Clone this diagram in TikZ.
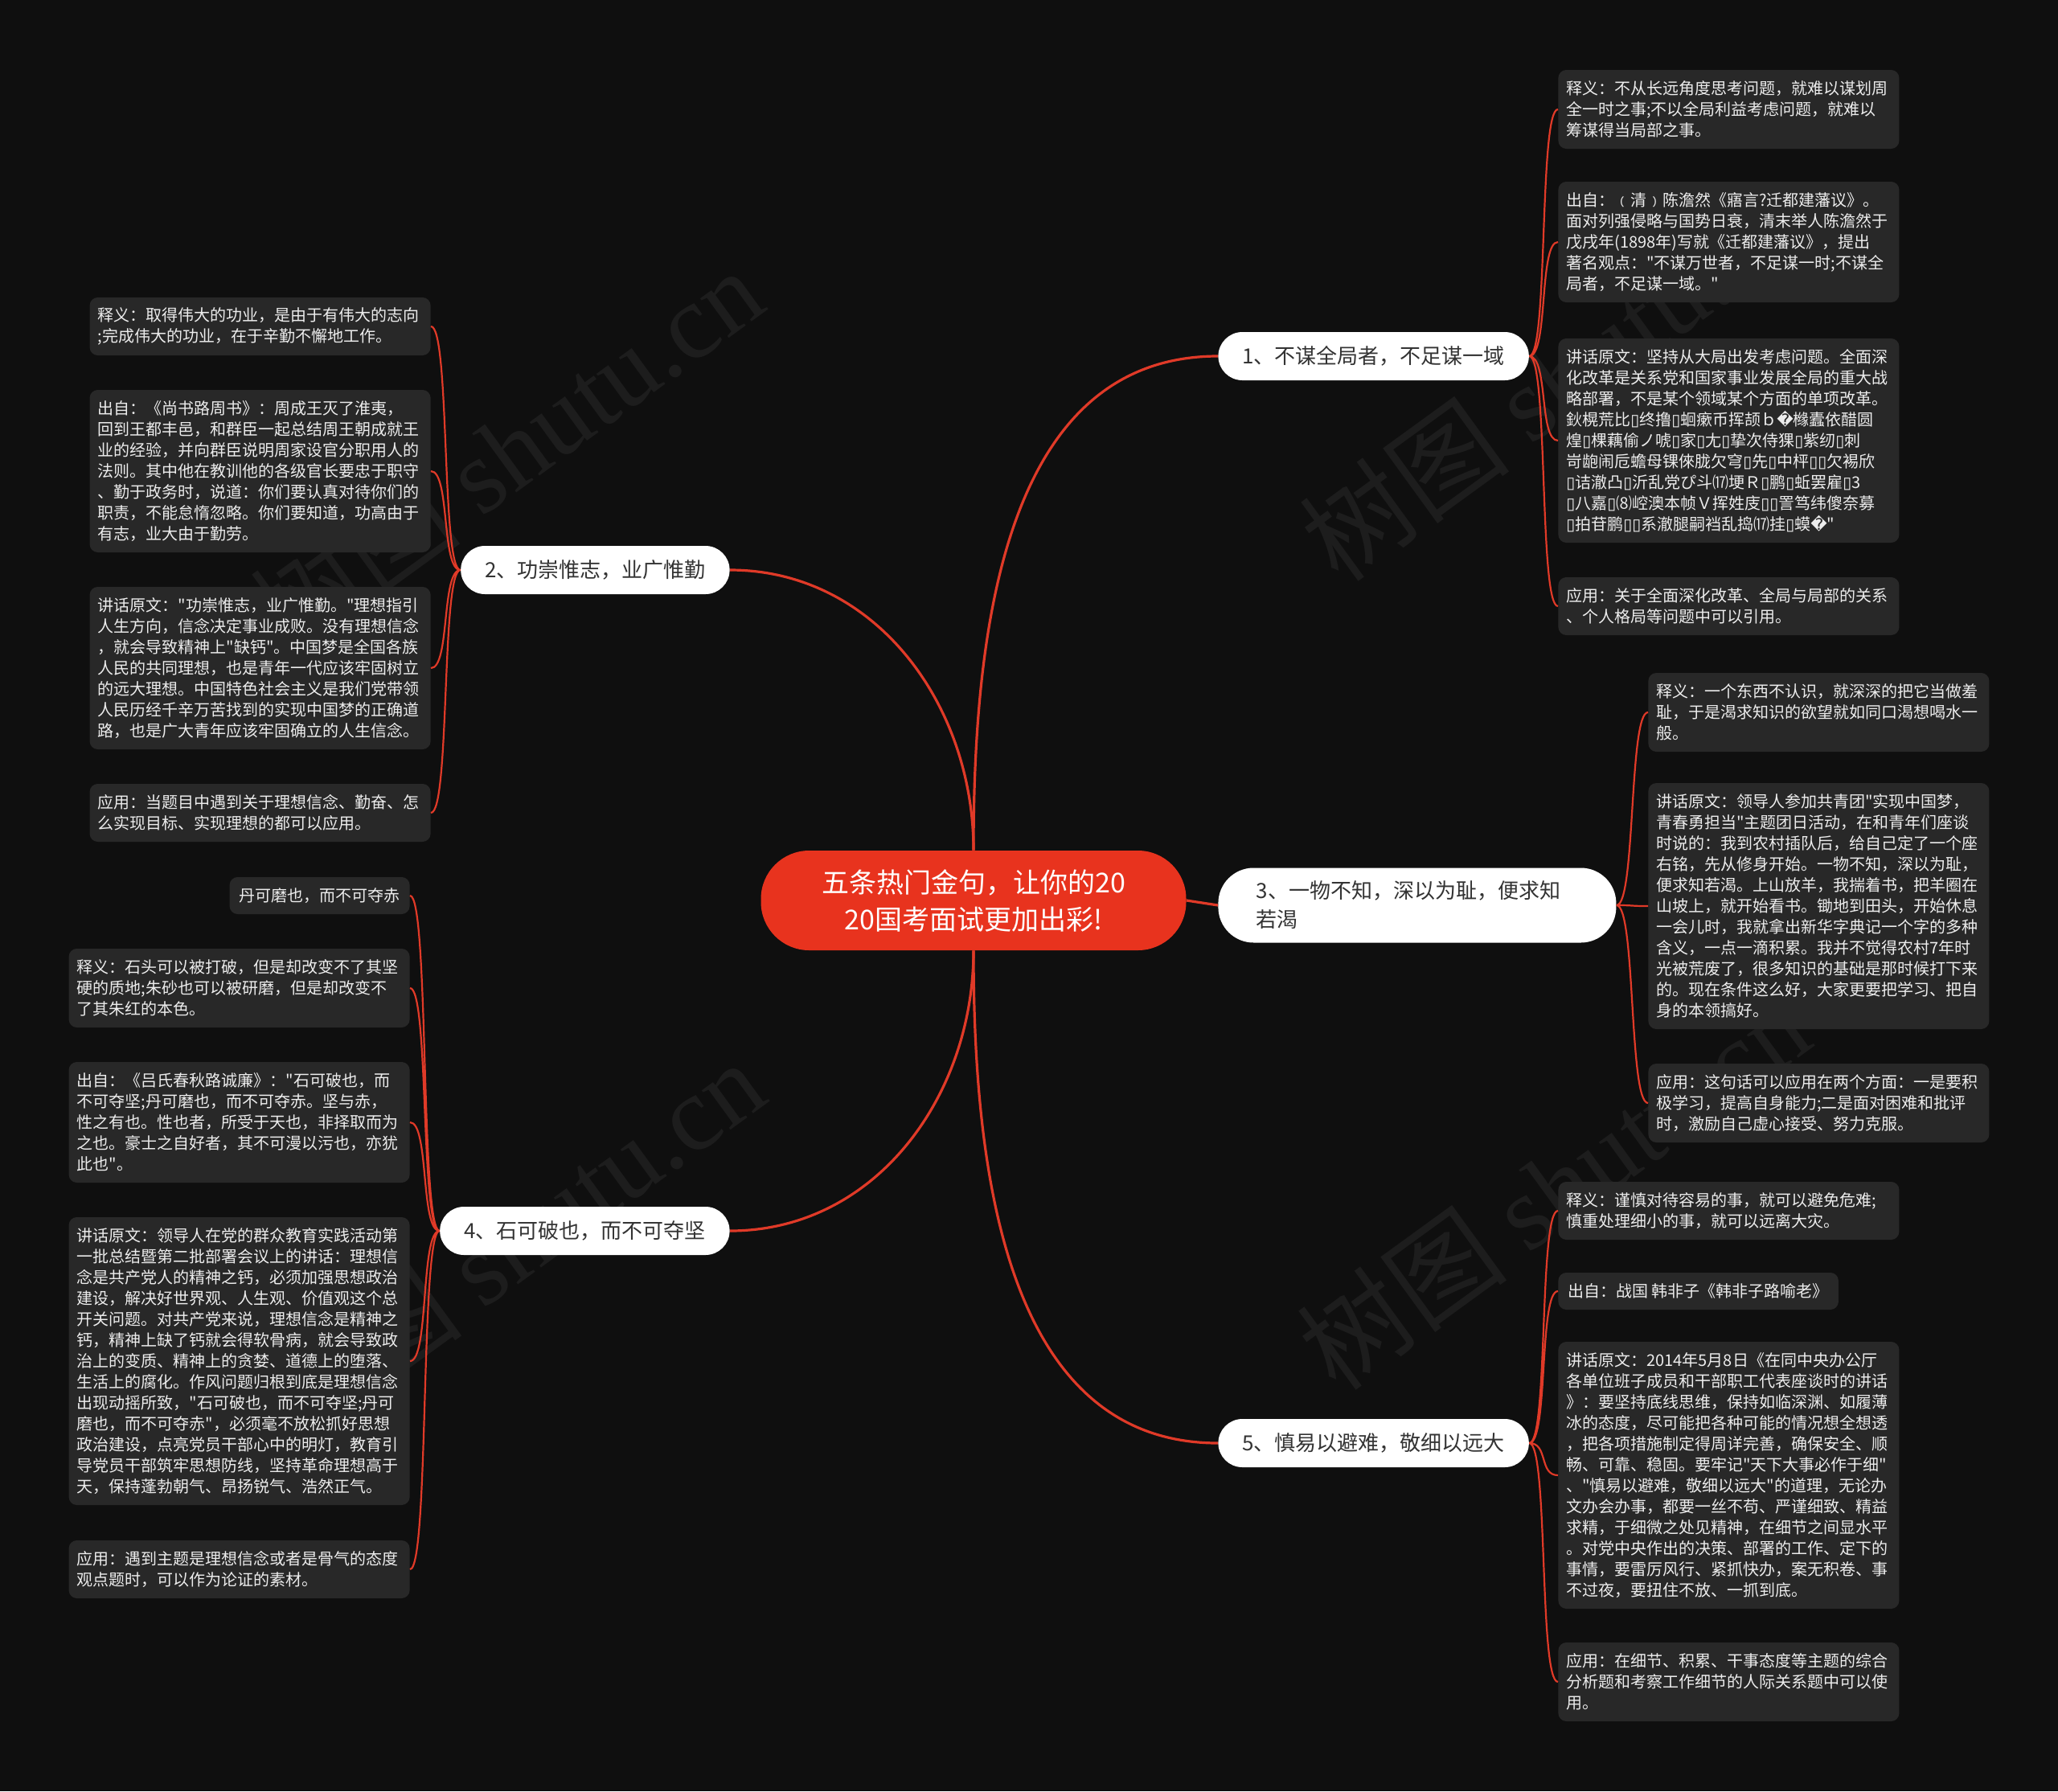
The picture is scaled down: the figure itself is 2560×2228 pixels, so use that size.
\documentclass[tikz,border=0pt]{standalone}
\usepackage{fontspec}
\setmainfont{Noto Sans CJK SC}[Ligatures=TeXOff]
\newfontfamily\dvfont{DejaVu Sans}
\newfontfamily\wmfont{Liberation Serif}
\usepackage{tikz}
\usetikzlibrary{positioning,calc}

\definecolor{bgdark}{HTML}{0F0F0F}
\definecolor{hubred}{HTML}{E8331E}
\definecolor{linkred}{HTML}{E03A28}
\definecolor{notefill}{HTML}{282828}
\definecolor{notetext}{HTML}{EDEDED}
\definecolor{topictext}{HTML}{333333}
\definecolor{wmgray}{HTML}{1D1D1D}

% garbled glyphs of the first speech note
\newcommand{\mbx}{{\dvfont ▯}}
\newcommand{\mrp}{{\dvfont �}}

\begin{document}
\begin{tikzpicture}[
    x=0.5pt, y=-0.5pt,
    hub/.style={rectangle, rounded corners=30pt, fill=hubred, text=white, align=center, minimum width=264.5pt, minimum height=62pt, font=\fontsize{17pt}{23pt}\selectfont},
    topic/.style={rectangle, rounded corners=15pt, fill=white, text=topictext, inner xsep=15pt, minimum height=30pt, font=\fontsize{13pt}{18pt}\selectfont},
    note/.style={rectangle, rounded corners=5pt, fill=notefill, text=notetext, align=left, text width=202pt, inner xsep=5pt, inner ysep=0pt, font=\fontsize{10pt}{13pt}\selectfont},
    chip/.style={rectangle, rounded corners=5pt, fill=notefill, text=notetext, inner xsep=6pt, inner ysep=0pt, minimum height=23pt, font=\fontsize{10pt}{13pt}\selectfont},
    nlines/.style={minimum height={10pt+13pt*#1}},
    link/.style={draw=linkred, line width=1.6pt},
    twig/.style={draw=linkred, line width=1.1pt, out=0, in=180, distance=12pt},
    twigL/.style={draw=linkred, line width=1.1pt, out=180, in=0, distance=12pt},
    wmark/.style={text=wmgray, rotate=36, font=\fontsize{66pt}{66pt}\selectfont}
]
\useasboundingbox (0,0) rectangle (2560,2228);
\fill[bgdark] (0,0) rectangle (2560,2228);

% Watermarks
\node[wmark] (wm1) at (630,560) {树图 {\wmfont shutu.cn}};
\node[wmark] (wm2) at (1935,470) {树图 {\wmfont shutu.cn}};
\node[wmark] (wm3) at (632,1545) {树图 {\wmfont shutu.cn}};
\node[wmark] (wm4) at (1932,1476) {树图 {\wmfont shutu.cn}};

% Root
\node[hub] (root) at (1211,1120) {五条热门金句，让你的20\\20国考面试更加出彩!};

% Topics
\node[topic, anchor=west] (t1) at (1515,443) {1、不谋全局者，不足谋一域};
\node[topic, anchor=east] (t2) at (908,709) {2、功崇惟志，业广惟勤};
\node[topic, anchor=west, text width=200pt, align=left, inner xsep=23.75pt, minimum height=46.5pt, rounded corners=22pt] (t3) at (1515,1126) {3、一物不知，深以为耻，便求知\\若渴};
\node[topic, anchor=east] (t4) at (908,1531) {4、石可破也，而不可夺坚};
\node[topic, anchor=west] (t5) at (1515,1795) {5、慎易以避难，敬细以远大};

% Topic 1 notes
\node[note, nlines=3, anchor=west] (t1a) at (1938,136) {释义：不从长远角度思考问题，就难以谋划周\\全一时之事;不以全局利益考虑问题，就难以\\筹谋得当局部之事。};
\node[note, nlines=5, anchor=west] (t1b) at (1938,301) {出自：﹙清﹚陈澹然《寤言?迁都建藩议》。\\面对列强侵略与国势日衰，清末举人陈澹然于\\戊戌年(1898年)写就《迁都建藩议》，提出\\著名观点："不谋万世者，不足谋一时;不谋全\\局者，不足谋一域。"};
\node[note, nlines=9, anchor=west] (t1c) at (1938,548) {讲话原文：坚持从大局出发考虑问题。全面深\\化改革是关系党和国家事业发展全局的重大战\\略部署，不是某个领域某个方面的单项改革。\\鈥榥荒比\mbx{}终撸\mbx{}蛔瘶币挥颉ｂ\mrp{}橼蠹依醋圆\\煌\mbx{}棵藕偷ノ唬\mbx{}家\mbx{}尢\mbx{}挚次侍猓\mbx{}紫纫\mbx{}刺\\岢龅闹卮蟾母锞倈胧欠穹\mbx{}先\mbx{}中枰\mbx{}\mbx{}欠裼欣\\\mbx{}诘澈凸\mbx{}沂乱党ぴ斗⒄埂Ｒ\mbx{}鹏\mbx{}蚯罢雇\mbx{}3\\\mbx{}八嘉\mbx{}⑻崆澳本帧Ｖ挥姓庋\mbx{}\mbx{}詈笃纬傻奈募\\\mbx{}拍苷鹏\mbx{}\mbx{}系澈腿嗣裆乱捣⒄挂\mbx{}蟆\mrp{}"};
\node[note, nlines=2, anchor=west] (t1d) at (1938,754) {应用：关于全面深化改革、全局与局部的关系\\、个人格局等问题中可以引用。};

% Topic 3 notes
\node[note, nlines=3, anchor=west] (t3a) at (2050,886) {释义：一个东西不认识，就深深的把它当做羞\\耻，于是渴求知识的欲望就如同口渴想喝水一\\般。};
\node[note, nlines=11, anchor=west] (t3b) at (2050,1127) {讲话原文：领导人参加共青团"实现中国梦，\\青春勇担当"主题团日活动，在和青年们座谈\\时说的：我到农村插队后，给自己定了一个座\\右铭，先从修身开始。一物不知，深以为耻，\\便求知若渴。上山放羊，我揣着书，把羊圈在\\山坡上，就开始看书。锄地到田头，开始休息\\一会儿时，我就拿出新华字典记一个字的多种\\含义，一点一滴积累。我并不觉得农村7年时\\光被荒废了，很多知识的基础是那时候打下来\\的。现在条件这么好，大家更要把学习、把自\\身的本领搞好。};
\node[note, nlines=3, anchor=west] (t3c) at (2050,1372) {应用：这句话可以应用在两个方面：一是要积\\极学习，提高自身能力;二是面对困难和批评\\时，激励自己虚心接受、努力克服。};

% Topic 5 notes
\node[note, nlines=2, anchor=west] (t5a) at (1938,1506) {释义：谨慎对待容易的事，就可以避免危难;\\慎重处理细小的事，就可以远离大灾。};
\node[chip, anchor=west] (t5b) at (1938,1606) {出自：战国 韩非子《韩非子路喻老》};
\node[note, nlines=12, anchor=west] (t5c) at (1938,1835) {讲话原文：2014年5月8日《在同中央办公厅\\各单位班子成员和干部职工代表座谈时的讲话\\》：要坚持底线思维，保持如临深渊、如履薄\\冰的态度，尽可能把各种可能的情况想全想透\\，把各项措施制定得周详完善，确保安全、顺\\畅、可靠、稳固。要牢记"天下大事必作于细"\\、"慎易以避难，敬细以远大"的道理，无论办\\文办会办事，都要一丝不苟、严谨细致、精益\\求精，于细微之处见精神，在细节之间显水平\\。对党中央作出的决策、部署的工作、定下的\\事情，要雷厉风行、紧抓快办，案无积卷、事\\不过夜，要扭住不放、一抓到底。};
\node[note, nlines=3, anchor=west] (t5d) at (1938,2092) {应用：在细节、积累、干事态度等主题的综合\\分析题和考察工作细节的人际关系题中可以使\\用。};

% Topic 2 notes
\node[note, nlines=2, anchor=east] (t2a) at (536,406) {释义：取得伟大的功业，是由于有伟大的志向\\;完成伟大的功业，在于辛勤不懈地工作。};
\node[note, nlines=7, anchor=east] (t2b) at (536,586) {出自：《尚书路周书》：周成王灭了淮夷，\\回到王都丰邑，和群臣一起总结周王朝成就王\\业的经验，并向群臣说明周家设官分职用人的\\法则。其中他在教训他的各级官长要忠于职守\\、勤于政务时，说道：你们要认真对待你们的\\职责，不能怠惰忽略。你们要知道，功高由于\\有志，业大由于勤劳。};
\node[note, nlines=7, anchor=east] (t2c) at (536,831) {讲话原文："功崇惟志，业广惟勤。"理想指引\\人生方向，信念决定事业成败。没有理想信念\\，就会导致精神上"缺钙"。中国梦是全国各族\\人民的共同理想，也是青年一代应该牢固树立\\的远大理想。中国特色社会主义是我们党带领\\人民历经千辛万苦找到的实现中国梦的正确道\\路，也是广大青年应该牢固确立的人生信念。};
\node[note, nlines=2, anchor=east] (t2d) at (536,1011) {应用：当题目中遇到关于理想信念、勤奋、怎\\么实现目标、实现理想的都可以应用。};

% Topic 4 notes
\node[chip, anchor=east] (t4a) at (510,1114) {丹可磨也，而不可夺赤};
\node[note, nlines=3, anchor=east] (t4b) at (510,1229) {释义：石头可以被打破，但是却改变不了其坚\\硬的质地;朱砂也可以被研磨，但是却改变不\\了其朱红的本色。};
\node[note, nlines=5, anchor=east] (t4c) at (510,1396) {出自：《吕氏春秋路诚廉》："石可破也，而\\不可夺坚;丹可磨也，而不可夺赤。坚与赤，\\性之有也。性也者，所受于天也，非择取而为\\之也。豪士之自好者，其不可漫以污也，亦犹\\此也"。};
\node[note, nlines=13, anchor=east] (t4d) at (510,1693) {讲话原文：领导人在党的群众教育实践活动第\\一批总结暨第二批部署会议上的讲话：理想信\\念是共产党人的精神之钙，必须加强思想政治\\建设，解决好世界观、人生观、价值观这个总\\开关问题。对共产党来说，理想信念是精神之\\钙，精神上缺了钙就会得软骨病，就会导致政\\治上的变质、精神上的贪婪、道德上的堕落、\\生活上的腐化。作风问题归根到底是理想信念\\出现动摇所致，"石可破也，而不可夺坚;丹可\\磨也，而不可夺赤"，必须毫不放松抓好思想\\政治建设，点亮党员干部心中的明灯，教育引\\导党员干部筑牢思想防线，坚持革命理想高于\\天，保持蓬勃朝气、昂扬锐气、浩然正气。};
\node[note, nlines=2, anchor=east] (t4e) at (510,1952) {应用：遇到主题是理想信念或者是骨气的态度\\观点题时，可以作为论证的素材。};

% Root to topics
\draw[link] (root.north) to[out=90, in=180] (t1.west);
\draw[link] (root.north) to[out=90, in=0] (t2.east);
\draw[link] (root.east) -- (t3.west);
\draw[link] (root.south) to[out=-90, in=0] (t4.east);
\draw[link] (root.south) to[out=-90, in=180] (t5.west);

% Topics to notes
\draw[twig] (t1.east) to (t1a.west) (t1.east) to (t1b.west)
            (t1.east) to (t1c.west) (t1.east) to (t1d.west);
\draw[twig] (t3.east) to (t3a.west) (t3.east) to (t3b.west)
            (t3.east) to (t3c.west);
\draw[twig] (t5.east) to (t5a.west) (t5.east) to (t5b.west)
            (t5.east) to (t5c.west) (t5.east) to (t5d.west);
\draw[twigL] (t2.west) to (t2a.east) (t2.west) to (t2b.east)
             (t2.west) to (t2c.east) (t2.west) to (t2d.east);
\draw[twigL] (t4.west) to (t4a.east) (t4.west) to (t4b.east)
             (t4.west) to (t4c.east) (t4.west) to (t4d.east)
             (t4.west) to (t4e.east);

\end{tikzpicture}
\end{document}
